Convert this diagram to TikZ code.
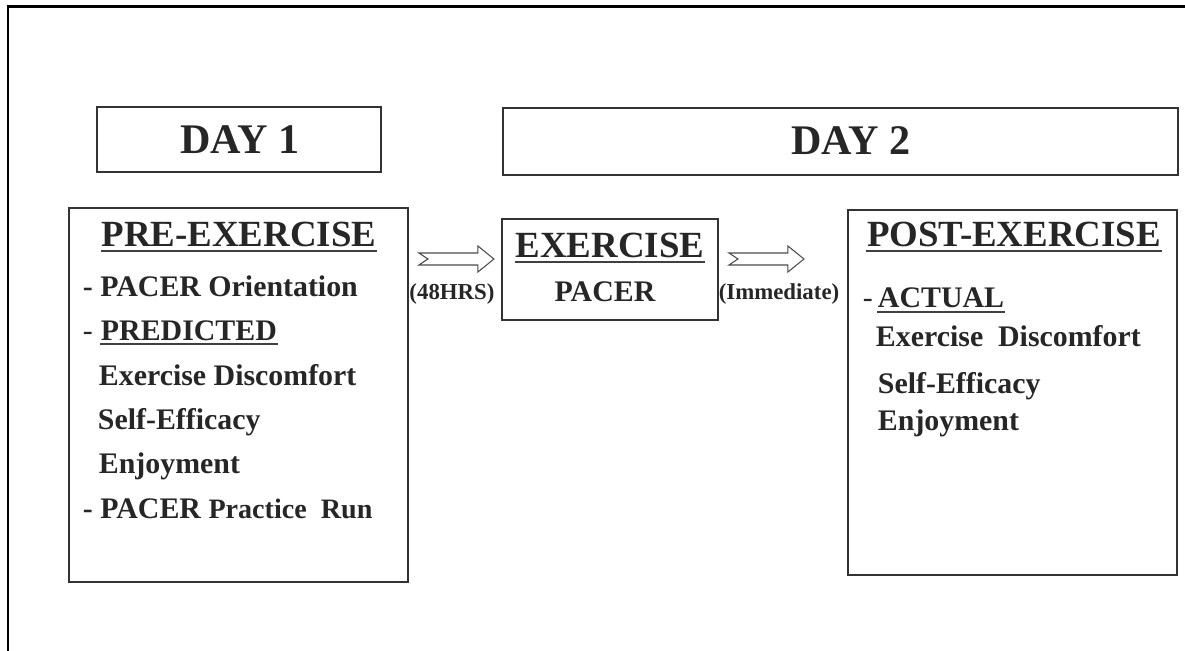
\documentclass[tikz,border=0pt]{standalone}
\usepackage{fontspec}
\setmainfont{Liberation Serif}
\tikzset{
  fatarrow/.pic={
    \draw[draw=black!70,line width=0.6pt,fill=white]
      (0,-6)--(59,-6)--(59,-13)--(75,0)--(59,13)--(59,6)--(0,6)--(9,0)--cycle;
  }
}
\begin{document}
\begin{tikzpicture}[x=0.02cm,y=-0.02cm,line width=1.1pt,
    box/.style={draw=black!80,inner sep=0pt},
    txt/.style={inner sep=0pt,anchor=base west,text=black!85,font=\fontsize{17}{20}\selectfont\bfseries},
    head/.style={txt,anchor=base,font=\fontsize{21}{24}\selectfont\bfseries},
    tag/.style={txt,anchor=base,font=\fontsize{13}{15}\selectfont\bfseries},
    uline/.style={draw=black!75,line width=1.1pt}]
  \useasboundingbox (0,0) rectangle (1185,651);
  \draw[line width=1.7pt] (1185,7)--(8,7)--(8,651);
  % day boxes
  \node[box,minimum width=5.68cm,minimum height=1.3cm] (day1) at (239,139.5) {};
  \node[box,minimum width=13.5cm,minimum height=1.34cm] (day2) at (840.5,141.5) {};
  \node[txt,anchor=base,font=\fontsize{24}{28}\selectfont\bfseries] (day1t) at (240,154) {DAY 1};
  \node[txt,anchor=base,font=\fontsize{24}{28}\selectfont\bfseries] (day2t) at (851,155) {DAY 2};
  % stage boxes
  \node[box,minimum width=6.78cm,minimum height=7.48cm] (pre) at (238.5,395) {};
  \node[box,minimum width=4.32cm,minimum height=2.02cm] (ex) at (610,269.5) {};
  \node[box,minimum width=6.58cm,minimum height=7.3cm] (post) at (1012.5,392.5) {};
  % pre-exercise
  \node[head] (pret) at (239,247) {PRE-EXERCISE};
  \draw[uline] ([yshift=-2.4pt]pret.base west)--([yshift=-2.4pt]pret.base east);
  \node[txt] (pre1) at (82,297) {- PACER Orientation};
  \node[txt,font=\fontsize{17}{20}\selectfont] (pre2d) at (82,340) {-};
  \node[txt] (pre2) at (100,340) {PREDICTED};
  \draw[uline] ([yshift=-2.4pt]pre2.base west)--([yshift=-2.4pt]pre2.base east);
  \node[txt] (pre3) at (98,385) {Exercise Discomfort};
  \node[txt] (pre4) at (97,429) {Self-Efficacy};
  \node[txt] (pre5) at (98,473) {Enjoyment};
  \node[txt] (pre6) at (82,518) {- PACER {\fontsize{16}{19}\selectfont Practice\ \ Run}};
  % exercise
  \node[head] (ext) at (610,258) {EXERCISE};
  \draw[uline] ([yshift=-2.4pt]ext.base west)--([yshift=-2.4pt]ext.base east);
  \node[txt,anchor=base] (ex1) at (605,302) {PACER};
  % post-exercise
  \node[head] (postt) at (1014,247) {POST-EXERCISE};
  \draw[uline] ([yshift=-2.4pt]postt.base west)--([yshift=-2.4pt]postt.base east);
  \node[txt,font=\fontsize{17}{20}\selectfont] (post1d) at (862,308) {-};
  \node[txt] (post1) at (877,308) {ACTUAL};
  \draw[uline] ([yshift=-2.4pt]post1.base west)--([yshift=-2.4pt]post1.base east);
  \node[txt] (post2) at (875,347) {Exercise\ \ Discomfort};
  \node[txt] (post3) at (877,393) {Self-Efficacy};
  \node[txt] (post4) at (877,430) {Enjoyment};
  % arrows
  \path (pre.east |- ex.west) ++(10,-10.5) coordinate (a1);
  \path (ex.east |- ex.west) ++(10,-10.5) coordinate (a2);
  \pic at (a1) {fatarrow};
  \pic at (a2) {fatarrow};
  \node[tag] (lab1) at (452,300) {(48HRS)};
  \node[tag] (lab2) at (779,300) {(Immediate)};
\end{tikzpicture}
\end{document}
